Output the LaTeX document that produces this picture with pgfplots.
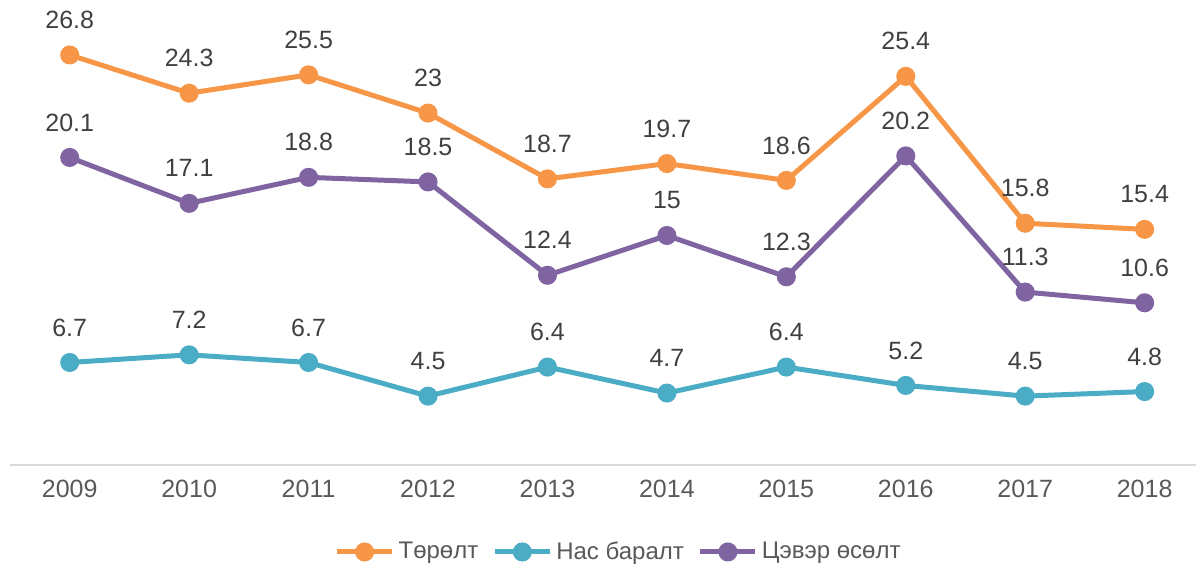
\documentclass[border=0pt]{standalone}
\usepackage{pgfplots}
\pgfplotsset{compat=1.18}
\usepackage{pgfplotstable}
\usepackage{fontspec}
\setmainfont{Liberation Sans}
\definecolor{cOr}{HTML}{F79646}
\definecolor{cTe}{HTML}{4BACC6}
\definecolor{cPu}{HTML}{8064A2}
\definecolor{cAx}{HTML}{D9D9D9}
\definecolor{cTk}{HTML}{595959}
\definecolor{cLb}{HTML}{404040}
\pgfplotstableread{
x birth death net
0 26.8 6.7 20.1
1 24.3 7.2 17.1
2 25.5 6.7 18.8
3 23 4.5 18.5
4 18.7 6.4 12.4
5 19.7 4.7 15
6 18.6 6.4 12.3
7 25.4 5.2 20.2
8 15.8 4.5 11.3
9 15.4 4.8 10.6
}\datatable
\begin{document}
\begin{tikzpicture}
\useasboundingbox (0,0) rectangle (598pt,282.5pt);
\begin{axis}[
  at={(5pt,50pt)}, anchor=south west,
  scale only axis, width=593pt, height=229.5pt,
  xmin=-0.5, xmax=9.43, ymin=0, ymax=30,
  axis x line=bottom, axis y line=none,
  x axis line style={draw=cAx, line width=1pt, -},
  xtick={0,...,9},
  xticklabels={2009,2010,2011,2012,2013,2014,2015,2016,2017,2018},
  major tick length=0pt,
  xticklabel style={font=\fontsize{12.5}{15}\selectfont, text=cTk, yshift=-4pt},
  clip=false,
  every axis plot/.append style={line width=2.5pt, mark=*, mark size=3.5pt},
  nodes near coords,
  point meta=explicit symbolic,
  every node near coord/.append style={font=\fontsize{12.5}{15}\selectfont, text=cLb, anchor=center, yshift=17.5pt},
  legend style={at={(0.514,-0.1895)}, anchor=center, draw=none, fill=none,
    legend columns=3, font=\fontsize{12}{14}\selectfont, text=cTk,
    nodes={inner sep=2pt},
    /tikz/every even column/.append style={column sep=5pt}},
  legend image code/.code={\draw[#1,mark repeat=2,mark phase=2] plot coordinates {(0pt,0pt)(13.75pt,0pt)(27.5pt,0pt)};},
]
\addplot[color=cOr, mark options={fill=cOr}] table[x=x, y=birth, meta=birth] {\datatable};
\addlegendentry{Төрөлт}
\addplot[color=cTe, mark options={fill=cTe}] table[x=x, y=death, meta=death] {\datatable};
\addlegendentry{Нас баралт}
\addplot[color=cPu, mark options={fill=cPu}] table[x=x, y=net, meta=net] {\datatable};
\addlegendentry{Цэвэр өсөлт}
\end{axis}
\end{tikzpicture}
\end{document}
